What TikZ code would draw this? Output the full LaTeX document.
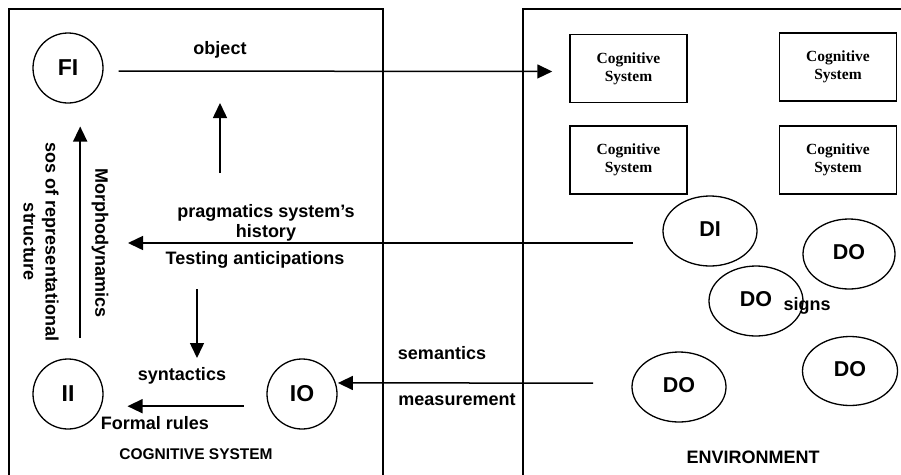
\documentclass[tikz,border=0pt]{standalone}
\usepackage{fontspec}
\setmainfont{Liberation Sans}
\newfontfamily\csserif{Liberation Serif}
\usetikzlibrary{arrows.meta,shapes.geometric}

\begin{document}
\begin{tikzpicture}[x=1pt,y=-1pt,
  lbl/.style={font=\fontsize{18}{20}\selectfont\bfseries, inner sep=0pt, align=center},
  state/.style={circle, draw, line width=1.3pt, minimum size=70pt, inner sep=0pt,
    font=\fontsize{23}{24}\selectfont\bfseries},
  sign/.style={ellipse, draw, line width=1.3pt, minimum width=94pt, minimum height=70pt,
    inner sep=0pt, font=\fontsize{21.5}{23}\selectfont\bfseries},
  csbox/.style={rectangle, draw, line width=1.5pt, minimum width=117pt, minimum height=68pt,
    inner sep=0pt, align=center, font=\csserif\fontsize{15.5}{18}\selectfont\bfseries},
  frame/.style={line width=1.7pt},
  arr/.style={line width=1.5pt, -{Triangle[length=15pt,width=14pt]}}
]
\useasboundingbox (0,0) rectangle (901,474);
\clip (0,0) rectangle (901,474);

% the two regions
\draw[frame] (9,500) -- (9,9) -- (383,9) -- (383,500);
\draw[frame] (523,500) -- (523,9) -- (920,9);

% cognitive system states
\node[state] (FI) at (68,68) {FI};
\node[state] (II) at (68,394) {II};
\node[state] (IO) at (302,394) {IO};

% cognitive systems in the environment
\node[csbox] (cs1) at (628.5,68.5) {Cognitive\\System};
\node[csbox] (cs2) at (838,67) {Cognitive\\System};
\node[csbox] (cs3) at (628.5,160) {Cognitive\\System};
\node[csbox] (cs4) at (838,160) {Cognitive\\System};

% signs in the environment
\node[sign] (DI) at (710,231) {\raisebox{3pt}{DI}};
\node[sign, minimum width=92pt] (DO1) at (849,254) {\raisebox{4pt}{DO}};
\node[sign] (DO2) at (756,301) {\raisebox{4pt}{DO}};
\node[sign, minimum width=95pt, minimum height=69pt] (DO3) at (850,371) {\raisebox{5pt}{DO}};
\node[sign] (DO4) at (679,387) {\raisebox{5pt}{DO}};

% free ends of connectors
\coordinate (upA) at (220,173);
\coordinate (upB) at (220,103);
\coordinate (prA) at (633,243);
\coordinate (prB) at (128,243);
\coordinate (dnA) at (197,289);
\coordinate (dnB) at (197,358);
\coordinate (msA) at (593,383);

% connectors
\draw[arr, shorten <=15pt, shorten >=17pt] ([yshift=-3pt]FI.east) -- ([yshift=-3pt]cs1.west);
\draw[arr] (upA) -- (upB);
\draw[arr] (prA) -- (prB);
\draw[arr] (dnA) -- (dnB);
\draw[arr, shorten >=2pt] (msA) -- (IO.18);
\draw[arr, shorten <=25pt, shorten >=26pt] (IO.-160) -- (II.-20);
\draw[arr, shorten <=23pt, shorten >=25pt] (II.70) -- (FI.-70);

% labels
\node[lbl] (lobj) at (220,50) {object};
\node[lbl] (lprag) at (266,223) {pragmatics system’s\\history};
\node[lbl] (ltest) at (255,260) {Testing anticipations};
\node[lbl] (lsyn) at (182,376) {syntactics};
\node[lbl] (lform) at (155,423) {Formal rules};
\node[lbl, font=\fontsize{15.5}{18}\selectfont\bfseries] (lcog) at (196,454) {COGNITIVE SYSTEM};
\node[lbl] (lsem) at (442,353) {semantics};
\node[lbl] (lmeas) at (457,400) {measurement};
\node[lbl, font=\fontsize{18}{20}\selectfont\bfseries] (lenv) at (753,457) {ENVIRONMENT};
\node[lbl] (lsigns) at (807,306) {signs};
\node[lbl, rotate=-90] (lmorph) at (100,243) {Morphodynamics};
\node[lbl, rotate=-90, font=\fontsize{18}{22}\selectfont\bfseries] (lsos) at (41,242) {sos of representational\\structure};
\end{tikzpicture}
\end{document}
